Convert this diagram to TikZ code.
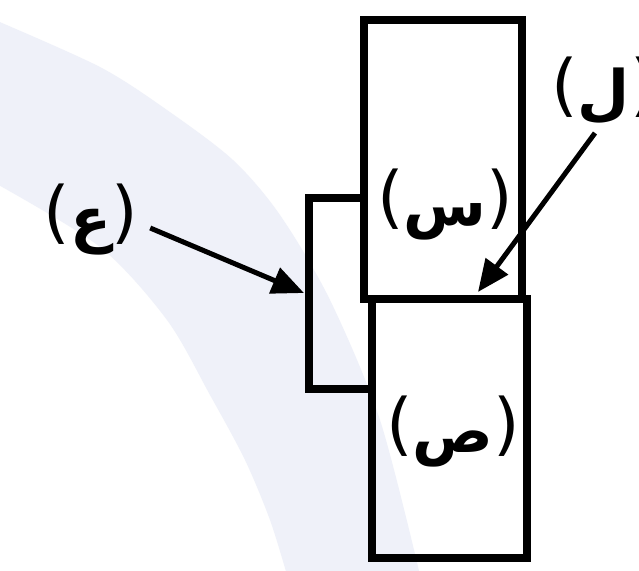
\documentclass[tikz,border=0pt]{standalone}
\usepackage{fontspec}
\newfontfamily\arabicfont[Script=Arabic]{DejaVu Sans}
\newfontfamily\parenfont{DejaVu Sans}
\TeXXeTstate=1
\usetikzlibrary{arrows.meta}
\definecolor{band}{RGB}{239,241,249}
\newcommand{\plabel}[1]{{\parenfont\fontsize{68}{70}\selectfont(}\raisebox{-5pt}{\arabicfont\fontsize{60}{62}\selectfont\bfseries\beginR #1\endR}{\parenfont\fontsize{68}{70}\selectfont)}}
\begin{document}
\begin{tikzpicture}[x=1pt,y=-1pt,
  box/.style={draw=black,line width=7.5pt,line join=miter},
  lbl/.style={inner sep=0pt},
  ptr/.style={draw=black,line width=5pt,-{Triangle[length=32pt,width=27pt]}}]
\useasboundingbox (0,0) rectangle (639,570);
\clip (0,0) rectangle (639,570);
\fill[white] (0,0) rectangle (639,570);
% faint background band
\fill[band] plot[smooth] coordinates {(-5,20) (100,67) (167,110) (233,160) (280,215) (330,300) (380,420) (420,575)}
  -- plot[smooth] coordinates {(287,575) (270,520) (245,460) (210,395) (167,320) (100,247) (-5,183)} -- cycle;
% boxes
\draw[box] (364,20) rectangle (522,299);
\draw[box] (372,299) rectangle (527,558);
\draw[box] (366,198) -- (309,198) -- (309,389) -- (372,389);
% labels
\node[lbl] (ain) at (91,220) {\plabel{ع}};
\node[lbl] (sin) at (445,205) {\plabel{س}};
\node[lbl] (sad) at (453,432) {\plabel{ص}};
\node[lbl] (lam) at (604,91) {\plabel{ل}};
% pointers
\coordinate (ainTip) at (304,293);
\coordinate (lamTip) at (478,292);
\draw[ptr] ([shift={(12,8)}]ain.east) -- (ainTip);
\draw[ptr] ([shift={(-9,8)}]lam.south) -- (lamTip);
\end{tikzpicture}
\end{document}
